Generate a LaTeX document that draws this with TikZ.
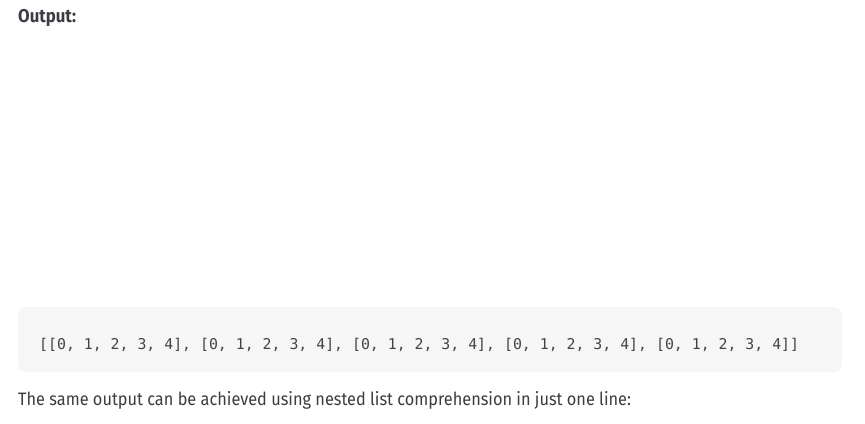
\documentclass[tikz,border=0pt]{standalone}
\usepackage{fontspec}
\setmainfont[FakeStretch=0.907]{Fira Sans}
\newfontfamily\codefont{DejaVu Sans Mono}
\definecolor{txtcol}{HTML}{3C3C42}
\definecolor{codecol}{HTML}{444444}
\definecolor{boxfill}{HTML}{F6F6F7}
\tikzset{
  bodytext/.style={anchor=base west, inner sep=0pt, text=txtcol, font=\fontsize{18bp}{22bp}\selectfont},
  headtext/.style={anchor=base west, inner sep=0pt, text=txtcol, font=\fontsize{18.5bp}{22bp}\selectfont\bfseries},
  codetext/.style={anchor=base west, inner sep=0pt, text=codecol, font=\fontsize{14.85bp}{18bp}\codefont},
  codebox/.style={fill=boxfill, draw=none, rounded corners=8bp}
}
\begin{document}
\begin{tikzpicture}[x=1bp, y=-1bp]
\useasboundingbox (0,0) rectangle (865,423);
\fill[white] (0,0) rectangle (865,423);
\node[headtext] (head) at (18,22) {Output:};
\draw[codebox] (18,307) rectangle (842,372);
\node[codetext] (code) at (39,349) {[[0, 1, 2, 3, 4], [0, 1, 2, 3, 4], [0, 1, 2, 3, 4], [0, 1, 2, 3, 4], [0, 1, 2, 3, 4]]};
\node[bodytext] (body) at (18,405.5) {The same output can be achieved using nested list comprehension in just one line:};
\end{tikzpicture}
\end{document}
